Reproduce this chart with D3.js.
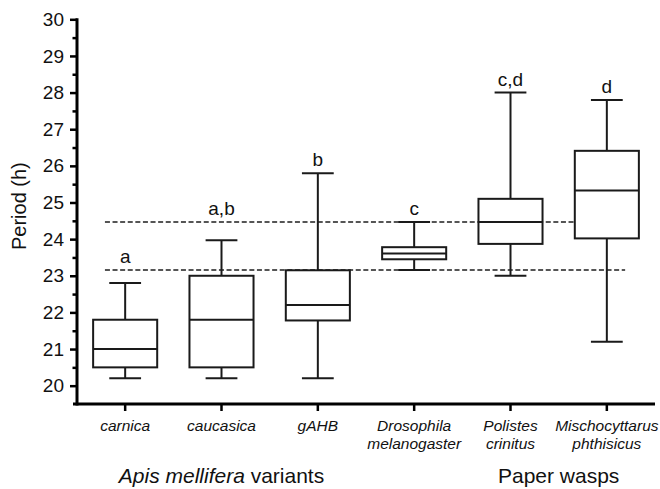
<!DOCTYPE html>
<html>
<head>
<meta charset="utf-8">
<script src="https://cdn.jsdelivr.net/npm/d3@7"></script>
<style>
  html, body { margin: 0; padding: 0; background: #fff; }
  svg { display: block; font-family: "Liberation Sans", Arial, sans-serif; }
</style>
</head>
<body>
<svg id="chart" width="660" height="489"></svg>
<script>
// ---- data ----
const categories = ["carnica", "caucasica", "gAHB", "Drosophila melanogaster", "Polistes crinitus", "Mischocyttarus phthisicus"];
const categoryLines = [["carnica"], ["caucasica"], ["gAHB"], ["Drosophila", "melanogaster"], ["Polistes", "crinitus"], ["Mischocyttarus", "phthisicus"]];
const whiskerLow  = [20.2, 20.2, 20.2, 23.16, 23.0, 21.2];
const q1          = [20.5, 20.5, 21.78, 23.45, 23.87, 24.02];
const median      = [21.0, 21.8, 22.2, 23.61, 24.47, 25.33];
const q3          = [21.8, 23.0, 23.15, 23.78, 25.1, 26.41];
const whiskerHigh = [22.8, 23.97, 25.8, 24.47, 28.0, 27.8];
const sigLetters  = ["a", "a,b", "b", "c", "c,d", "d"];
const refLines    = [24.47, 23.16];
const majorTicks  = [20, 21, 22, 23, 24, 25, 26, 27, 28, 29, 30];
const minorTicks  = [20.5, 21.5, 22.5, 23.5, 24.5, 25.5, 26.5, 27.5, 28.5, 29.5];
const groupNames  = ["Apis mellifera variants", "Paper wasps"];
const groupMembers = [["caucasica"], ["Polistes crinitus", "Mischocyttarus phthisicus"]];
const yLabel = "Period (h)";

// ---- layout ----
const svg = d3.select("#chart");
const mLeft = 77, mRight = 655, mTop = 19.3, mBottom = 404;
const x = d3.scaleBand().domain(categories).range([mLeft, mRight]).padding(0);
const y = d3.scaleLinear().domain([19.5, 30]).range([mBottom, mTop]);
const bw = x.bandwidth();
const cx = c => x(c) + bw / 2;
const ink = "#1a1a1a";

// dashed reference lines
svg.append("g").selectAll("line").data(refLines).join("line")
  .attr("x1", cx(categories[0]) - 0.21 * bw)
  .attr("x2", cx(categories[categories.length - 1]) + 0.19 * bw)
  .attr("y1", d => y(d)).attr("y2", d => y(d))
  .attr("stroke", "#555").attr("stroke-width", 2)
  .attr("stroke-dasharray", "5,2.6");

// boxes
const boxes = categories.map((c, i) => ({c, lo: whiskerLow[i], q1: q1[i], med: median[i], q3: q3[i], hi: whiskerHigh[i], letter: sigLetters[i]}));
const bg = svg.append("g").selectAll("g").data(boxes).join("g");
const boxW = 0.665 * bw, capW = 0.33 * bw;
bg.append("line").attr("x1", d => cx(d.c)).attr("x2", d => cx(d.c))
  .attr("y1", d => y(d.hi)).attr("y2", d => y(d.q3)).attr("stroke", ink).attr("stroke-width", 2);
bg.append("line").attr("x1", d => cx(d.c)).attr("x2", d => cx(d.c))
  .attr("y1", d => y(d.q1)).attr("y2", d => y(d.lo)).attr("stroke", ink).attr("stroke-width", 2);
bg.append("line").attr("x1", d => cx(d.c) - capW / 2).attr("x2", d => cx(d.c) + capW / 2)
  .attr("y1", d => y(d.hi)).attr("y2", d => y(d.hi)).attr("stroke", ink).attr("stroke-width", 2);
bg.append("line").attr("x1", d => cx(d.c) - capW / 2).attr("x2", d => cx(d.c) + capW / 2)
  .attr("y1", d => y(d.lo)).attr("y2", d => y(d.lo)).attr("stroke", ink).attr("stroke-width", 2);
bg.append("rect").attr("x", d => cx(d.c) - boxW / 2).attr("width", boxW)
  .attr("y", d => y(d.q3)).attr("height", d => y(d.q1) - y(d.q3))
  .attr("fill", "#fff").attr("stroke", ink).attr("stroke-width", 2);
bg.append("line").attr("x1", d => cx(d.c) - boxW / 2).attr("x2", d => cx(d.c) + boxW / 2)
  .attr("y1", d => y(d.med)).attr("y2", d => y(d.med)).attr("stroke", ink).attr("stroke-width", 2);

// significance letters: above cap, or above the nearest dashed line over the cap
bg.append("text")
  .attr("x", d => cx(d.c))
  .attr("y", d => {
    const above = refLines.filter(r => r >= d.hi - 0.02);
    const anchor = above.length ? Math.min(...above) : d.hi;
    return y(anchor) - 7;
  })
  .attr("text-anchor", "middle").attr("font-size", 19).attr("fill", "#111")
  .text(d => d.letter);

// y axis
const yAxis = svg.append("g").attr("transform", `translate(${mLeft},0)`)
  .call(d3.axisLeft(y).tickValues(majorTicks).tickSize(7).tickSizeOuter(0).tickPadding(6).tickFormat(d3.format("d")));
yAxis.select(".domain").attr("stroke", "#000").attr("stroke-width", 3)
  .attr("d", `M0,${mBottom + 1.5}V${mTop - 1}`);
yAxis.selectAll(".tick line").attr("stroke", "#000").attr("stroke-width", 2.5);
yAxis.selectAll(".tick text").attr("font-size", 19).attr("fill", "#111")
  .attr("font-family", "Liberation Sans, Arial, sans-serif");
const yMinor = svg.append("g").attr("transform", `translate(${mLeft},0)`)
  .call(d3.axisLeft(y).tickValues(minorTicks).tickSize(4.5).tickSizeOuter(0).tickFormat(""));
yMinor.select(".domain").remove();
yMinor.selectAll(".tick line").attr("stroke", "#000").attr("stroke-width", 2.5);

// x axis
const xAxis = svg.append("g").attr("transform", `translate(0,${mBottom})`)
  .call(d3.axisBottom(x).tickSize(7).tickSizeOuter(0));
xAxis.select(".domain").attr("stroke", "#000").attr("stroke-width", 3)
  .attr("d", `M${mLeft - 4},0H${mRight}`);
xAxis.selectAll(".tick line").attr("stroke", "#000").attr("stroke-width", 2.5);
xAxis.selectAll(".tick text").remove();
xAxis.selectAll(".tick").append("text")
  .attr("fill", "#111").attr("font-size", 15.5).attr("font-style", "italic")
  .attr("text-anchor", "middle")
  .attr("font-family", "Liberation Sans, Arial, sans-serif")
  .each(function(d) {
    const lines = categoryLines[categories.indexOf(d)];
    const t = d3.select(this);
    lines.forEach((l, k) => t.append("tspan").attr("x", 0).attr("y", 27 + k * 17.6).text(l));
  });

// group labels
const gl = svg.append("g");
groupNames.forEach((name, gi) => {
  const mem = groupMembers[gi];
  const gx = d3.mean(mem, cx);
  const t = gl.append("text").attr("x", gx).attr("y", mBottom + 79)
    .attr("text-anchor", "middle").attr("font-size", 21).attr("fill", "#111");
  if (gi === 0) {
    t.append("tspan").attr("font-style", "italic").text("Apis mellifera");
    t.append("tspan").text(" variants");
  } else {
    t.text(name);
  }
});

// y label
svg.append("text")
  .attr("transform", `translate(26,${y(24.9)}) rotate(-90)`)
  .attr("text-anchor", "middle").attr("font-size", 20).attr("fill", "#111")
  .text(yLabel);
</script>
</body>
</html>
